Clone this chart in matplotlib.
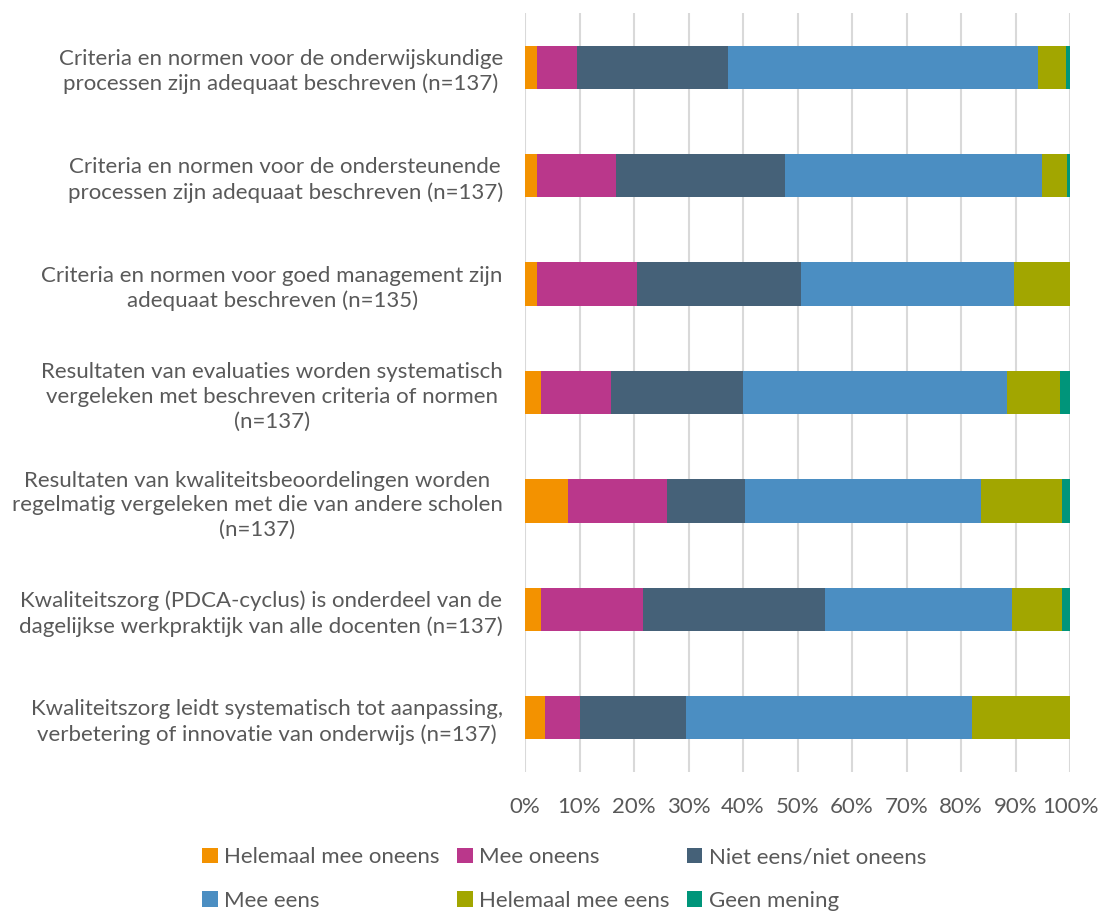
import numpy as np
import matplotlib
matplotlib.use("Agg")
import matplotlib.pyplot as plt

# statements (top to bottom as shown)
statements = [
    "Criteria en normen voor de onderwijskundige\nprocessen zijn adequaat beschreven (n=137)",
    "Criteria en normen voor de ondersteunende\nprocessen zijn adequaat beschreven (n=137)",
    "Criteria en normen voor goed management zijn\nadequaat beschreven (n=135)",
    "Resultaten van evaluaties worden systematisch\nvergeleken met beschreven criteria of normen\n(n=137)",
    "Resultaten van kwaliteitsbeoordelingen worden\nregelmatig vergeleken met die van andere scholen\n(n=137)",
    "Kwaliteitszorg (PDCA-cyclus) is onderdeel van de\ndagelijkse werkpraktijk van alle docenten (n=137)",
    "Kwaliteitszorg leidt systematisch tot aanpassing,\nverbetering of innovatie van onderwijs (n=137)",
]

answers = ["Helemaal mee oneens", "Mee oneens", "Niet eens/niet oneens",
           "Mee eens", "Helemaal mee eens", "Geen mening"]

# percentages per answer, one value per statement
helemaal_oneens = [2.2, 2.2, 2.2, 2.9, 7.9, 2.9, 3.6]
mee_oneens = [7.4, 14.5, 18.4, 12.9, 18.2, 18.8, 6.5]
neutraal = [27.6, 31.0, 30.0, 24.2, 14.2, 33.4, 19.5]
mee_eens = [56.9, 47.1, 39.2, 48.4, 43.4, 34.3, 52.5]
helemaal_eens = [5.2, 4.6, 10.2, 9.7, 14.8, 9.1, 17.9]
geen_mening = [0.7, 0.6, 0.0, 1.9, 1.5, 1.5, 0.0]

colors = ["#F39200", "#BA378B", "#456178", "#4B8EC2", "#A2A600", "#00957A"]
text_color = "#595959"

plt.rcParams["font.family"] = ["Lato", "DejaVu Sans"]

fig = plt.figure(figsize=(10.98, 9.13), dpi=100)
ax = fig.add_axes([525 / 1098, 1 - 772 / 913, 545 / 1098, 759 / 913])

series = [helemaal_oneens, mee_oneens, neutraal, mee_eens, helemaal_eens, geen_mening]
y = np.arange(len(statements))
left = np.zeros(len(statements))
handles = []
for vals, name, c in zip(series, answers, colors):
    vals = np.array(vals) / 100
    h = ax.barh(y, vals, left=left, height=0.4, color=c, label=name, zorder=3)
    handles.append(h)
    left += vals

ax.set_ylim(len(statements) - 0.5, -0.5)
ax.set_xlim(0, 1)
ax.set_xticks(np.arange(0, 1.01, 0.1))
ax.set_xticklabels([f"{int(round(t * 100))}%" for t in np.arange(0, 1.01, 0.1)])
ax.set_yticks(y)
ax.set_yticklabels(statements, multialignment="center", linespacing=1.3)
ax.grid(axis="x", color="#D9D9D9", linewidth=1.5, zorder=0)
for s in ax.spines.values():
    s.set_visible(False)
ax.tick_params(axis="both", length=0, labelsize=16, labelcolor=text_color)
ax.tick_params(axis="y", pad=16)
ax.tick_params(axis="x", pad=18)

# legend filled row by row like the original
order = [0, 3, 1, 4, 2, 5]
fig.legend([handles[i] for i in order], [answers[i] for i in order],
           ncol=3, loc="lower left", bbox_to_anchor=(200 / 1098, 0.0),
           frameon=False, fontsize=16, labelcolor=text_color,
           handlelength=0.7, handleheight=0.7, handletextpad=0.3,
           columnspacing=0.77, labelspacing=1.05, borderpad=0.1,
           borderaxespad=0.0)

fig.savefig("out.png", dpi=100)
